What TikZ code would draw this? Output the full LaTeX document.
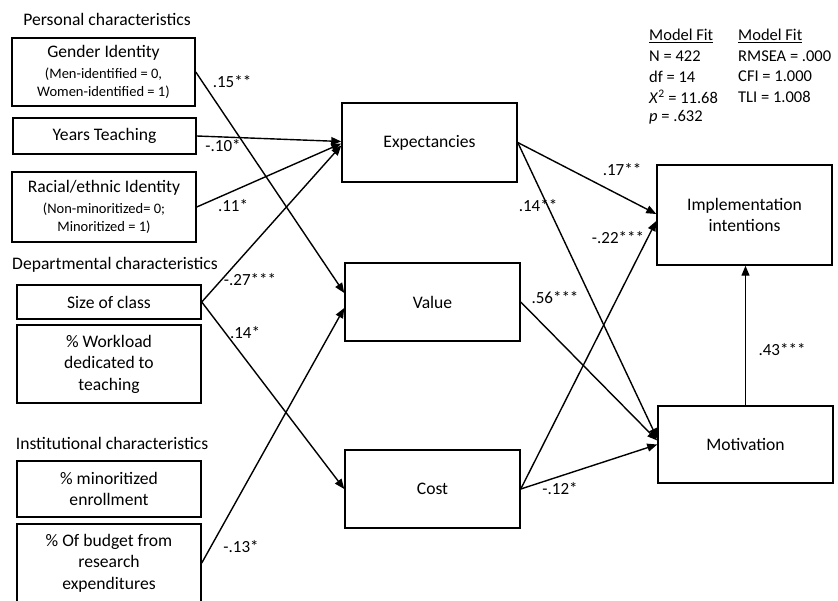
\documentclass[tikz,border=0pt]{standalone}
\usepackage{fontspec}
\setmainfont{Carlito}
\usetikzlibrary{arrows.meta}
\newcommand{\subtxt}{\fontsize{14.5}{17}\selectfont}
\tikzset{
  box/.style={draw, line width=1.5pt, minimum width=175pt, align=center, inner sep=0pt, font=\fontsize{17.6}{21.5}\selectfont},
  lbox/.style={box, minimum width=184pt},
  arr/.style={-{Triangle[length=10pt,width=8pt]}, line width=1.4pt},
  coef/.style={font=\fontsize{17}{19}\selectfont, inner sep=0pt},
  hdr/.style={font=\fontsize{17.6}{21}\selectfont, inner sep=0pt},
  fittxt/.style={font=\fontsize{16.5}{20}\selectfont, anchor=west, inner sep=0pt}
}
\begin{document}
\begin{tikzpicture}[x=1pt,y=-1pt]
  \useasboundingbox (0,0) rectangle (838,601);
  \node[hdr] (pers) at (107,19) {Personal characteristics};
  \node[hdr] (dept) at (115,265) {Departmental characteristics};
  \node[hdr] (inst) at (112,443) {Institutional characteristics};
  \node[lbox, minimum width=183pt, minimum height=68pt] (gender) at (103.5,72)
    {Gender Identity\\[-1pt]{\subtxt (Men-identified = 0,}\\[-3pt]{\subtxt Women-identified = 1)}};
  \node[lbox, minimum width=183pt, minimum height=36pt] (years) at (104.5,136) {Years Teaching};
  \node[lbox, minimum height=70pt] (racial) at (104,207)
    {Racial/ethnic Identity\\[-1pt]{\subtxt (Non-minoritized= 0;}\\[-3pt]{\subtxt Minoritized = 1)}};
  \node[lbox, minimum height=34pt] (size) at (109,302) {Size of class};
  \node[lbox, minimum height=78pt] (work) at (109,364) {\% Workload\\dedicated to\\teaching};
  \node[lbox, minimum height=56pt] (minor) at (109,489) {\% minoritized\\enrollment};
  \node[lbox, minimum height=78pt] (budget) at (109,563) {\% Of budget from\\research\\expenditures};
  \node[box, minimum height=79pt] (expect) at (429.5,142.5) {Expectancies};
  \node[box, minimum height=78pt] (value) at (432.5,302) {Value};
  \node[box, minimum height=78pt] (cost) at (432.5,489) {Cost};
  \node[box, minimum height=100pt] (impl) at (744.5,215) {Implementation\\intentions};
  \node[box, minimum height=77pt] (motiv) at (745.5,444.5) {Motivation};

  \draw[arr] (gender.east) -- ([yshift=9pt]value.west);
  \draw[arr] (years.east) -- ([yshift=1pt]expect.west);
  \draw[arr] (racial.east) -- ([yshift=-1pt]expect.west);
  \draw[arr] (size.east) -- ([yshift=-3pt]expect.west);
  \draw[arr] (size.east) -- (cost.west);
  \draw[arr] (budget.east) -- ([yshift=-6pt]value.west);
  \draw[arr] (expect.east) -- ([yshift=1pt]impl.west);
  \draw[arr] (expect.east) -- ([yshift=6pt]motiv.west);
  \draw[arr] (value.east) -- ([yshift=4pt]motiv.west);
  \draw[arr] (cost.east) -- ([yshift=-6pt]impl.west);
  \draw[arr] (cost.east) -- (motiv.west);
  \draw[arr] (motiv.north) -- (motiv.north |- impl.south);

  \node[coef] (c15) at (232,82) {.15**};
  \node[coef] (c10) at (223,146) {-.10*};
  \node[coef] (c11) at (233,206) {.11*};
  \node[coef] (c27) at (250,280) {-.27***};
  \node[coef] (c14a) at (245,333) {.14*};
  \node[coef] (c13) at (241,547) {-.13*};
  \node[coef] (c17) at (622,170) {.17**};
  \node[coef] (c14b) at (538,206) {.14**};
  \node[coef] (c22) at (618,238) {-.22***};
  \node[coef] (c56) at (555,298) {.56***};
  \node[coef] (c12) at (560,489) {-.12*};
  \node[coef] (c43) at (782,350) {.43***};

  \foreach \t [count=\i] in {\underline{Model Fit}, N = 422, df = 14, \textit{X}\textsuperscript{2} = 11.68, \textit{p} = .632}
    \node[fittxt] (fa\i) at (649,15.8+20.2*\i) {\t};
  \foreach \t [count=\i] in {\underline{Model Fit}, RMSEA = .000, CFI = 1.000, TLI = 1.008}
    \node[fittxt] (fb\i) at (738,15.8+20.2*\i) {\t};
\end{tikzpicture}
\end{document}
